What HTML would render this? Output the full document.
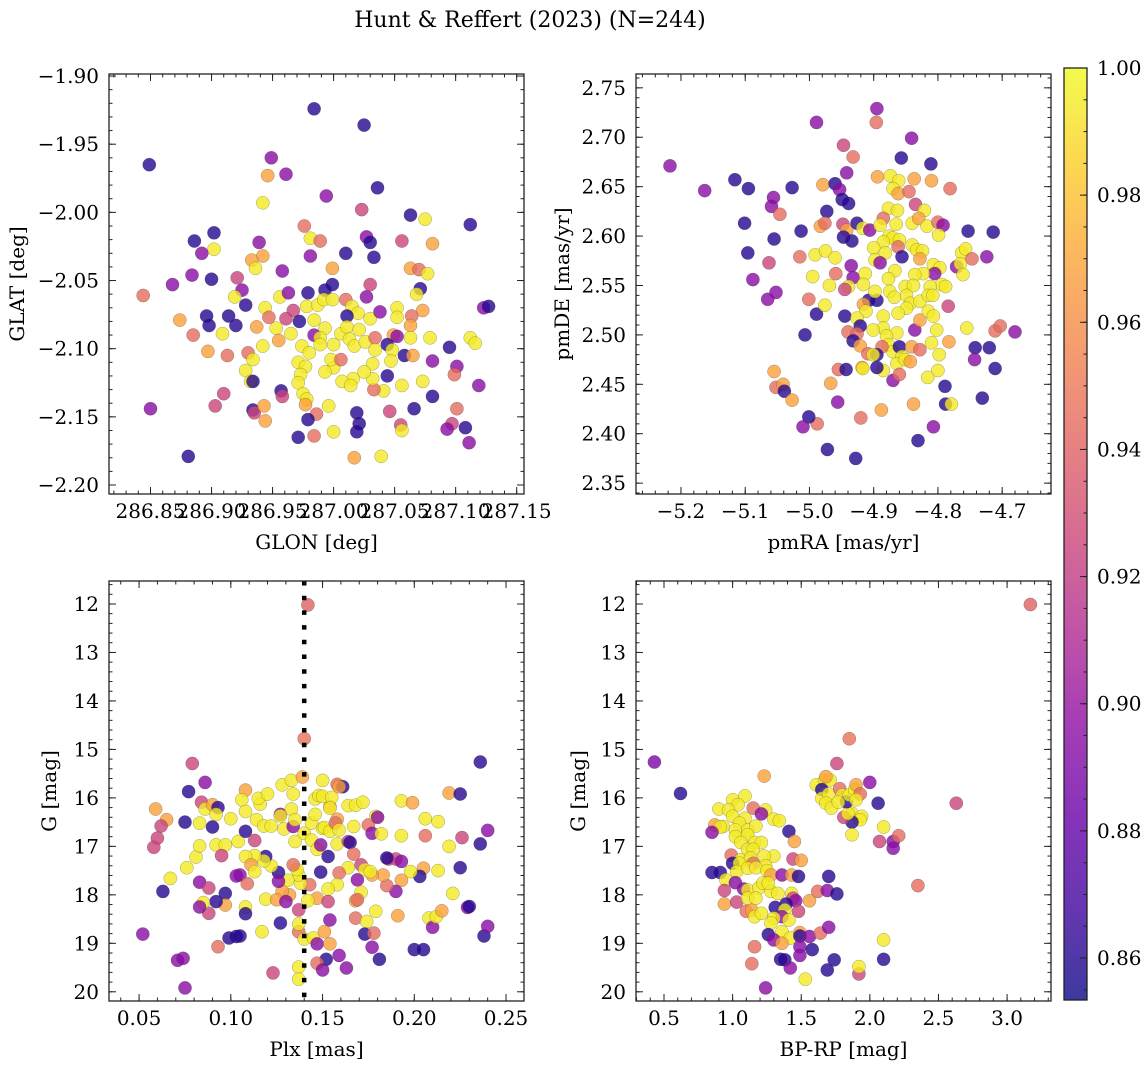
<!DOCTYPE html>
<html><head><meta charset="utf-8"><style>
html,body{margin:0;padding:0;background:#fff;}
svg{display:block;font-family:"DejaVu Serif","Liberation Serif",serif;}
</style></head><body>
<svg id="fig" width="1148" height="1068" viewBox="0 0 1148 1068" xmlns="http://www.w3.org/2000/svg">
<text x="530" y="27" font-size="22" text-anchor="middle">Hunt &amp; Reffert (2023) (N=244)</text>
</svg>
<script>
// Panel 1: GLON / GLAT
const p1Lon=[286.984,287.025,286.849,286.949,286.946,286.961,287.036,286.942,286.994,287.023,287.063,287.075,287.112,286.976,286.981,286.989,287.027,287.030,287.056,287.081,286.886,286.902,286.902,286.892,286.939,286.942,286.933,286.936,286.981,287.010,287.033,286.958,286.999,287.063,287.070,287.077,286.884,286.900,286.868,286.844,286.921,286.925,286.919,286.928,286.956,286.963,286.979,286.999,286.993,287.030,287.027,287.071,287.068,287.073,287.123,287.127,287.112,287.116,286.874,286.896,286.898,286.914,286.920,286.885,286.909,286.897,286.913,286.930,286.934,286.928,286.932,286.934,286.942,286.937,286.944,286.947,286.953,286.955,286.965,286.967,286.961,286.972,286.984,286.978,286.987,286.992,286.999,287.010,287.015,287.020,287.011,287.030,287.038,287.052,287.052,287.064,287.063,287.063,287.079,287.049,287.052,287.095,286.993,286.984,286.989,286.989,286.974,286.980,287.000,287.006,287.011,287.021,287.013,287.017,287.026,287.034,287.034,287.044,287.048,287.047,287.058,287.065,287.081,287.101,287.099,287.119,287.073,287.056,287.044,287.041,287.033,287.032,287.032,287.025,287.016,287.007,287.014,287.000,286.993,286.998,287.006,286.971,286.977,286.973,286.971,286.975,286.978,286.957,286.958,286.910,286.903,286.850,286.934,286.935,286.943,286.944,286.977,286.986,286.996,286.979,287.019,287.021,287.019,287.046,287.066,287.081,287.055,287.056,287.101,287.097,287.093,287.108,287.111,287.000,286.984,286.971,287.017,287.039,286.881];
const p1Lat=[-1.924,-1.936,-1.965,-1.960,-1.973,-1.972,-1.982,-1.993,-1.988,-1.998,-2.002,-2.005,-2.009,-2.010,-2.019,-2.021,-2.018,-2.022,-2.021,-2.023,-2.021,-2.015,-2.027,-2.030,-2.022,-2.032,-2.035,-2.041,-2.032,-2.030,-2.033,-2.043,-2.041,-2.041,-2.042,-2.045,-2.046,-2.049,-2.053,-2.061,-2.048,-2.057,-2.062,-2.068,-2.062,-2.059,-2.059,-2.053,-2.057,-2.053,-2.062,-2.056,-2.060,-2.072,-2.070,-2.069,-2.092,-2.096,-2.079,-2.076,-2.083,-2.076,-2.083,-2.090,-2.089,-2.102,-2.105,-2.103,-2.108,-2.116,-2.124,-2.124,-2.098,-2.084,-2.070,-2.077,-2.085,-2.094,-2.089,-2.072,-2.078,-2.080,-2.079,-2.069,-2.068,-2.064,-2.064,-2.064,-2.069,-2.074,-2.076,-2.078,-2.073,-2.070,-2.077,-2.076,-2.083,-2.092,-2.092,-2.090,-2.091,-2.099,-2.085,-2.090,-2.092,-2.097,-2.098,-2.103,-2.097,-2.089,-2.084,-2.086,-2.093,-2.098,-2.095,-2.092,-2.101,-2.097,-2.101,-2.109,-2.105,-2.105,-2.109,-2.113,-2.119,-2.127,-2.124,-2.127,-2.120,-2.131,-2.130,-2.122,-2.111,-2.117,-2.122,-2.124,-2.127,-2.114,-2.117,-2.108,-2.108,-2.110,-2.113,-2.119,-2.125,-2.133,-2.137,-2.131,-2.135,-2.133,-2.142,-2.144,-2.145,-2.147,-2.142,-2.153,-2.141,-2.148,-2.142,-2.152,-2.147,-2.155,-2.161,-2.146,-2.144,-2.135,-2.156,-2.160,-2.144,-2.155,-2.159,-2.158,-2.169,-2.161,-2.164,-2.165,-2.180,-2.179,-2.179];
const p1Prob=[.86,.86,.86,.895,.968,.895,.86,.995,.895,.925,.86,.995,.86,.945,.995,.945,.895,.86,.925,.968,.86,.86,.995,.895,.895,.968,.968,.995,.895,.86,.86,.895,.968,.968,.945,.995,.895,.86,.895,.945,.925,.895,.995,.86,.995,.895,.86,.86,.86,.925,.895,.86,.995,.968,.895,.86,.995,.995,.968,.86,.86,.86,.86,.945,.995,.968,.945,.945,.995,.995,.995,.86,.995,.968,.995,.945,.995,.968,.995,.925,.925,.86,.995,.995,.995,.995,.995,.945,.995,.995,.86,.995,.895,.995,.995,.945,.968,.995,.995,.968,.895,.86,.995,.895,.995,.995,.995,.995,.995,.995,.995,.995,.995,.995,.995,.945,.995,.86,.995,.995,.86,.968,.895,.895,.945,.895,.995,.995,.86,.995,.945,.995,.995,.995,.995,.995,.995,.995,.995,.995,.945,.995,.995,.995,.995,.995,.995,.86,.925,.925,.925,.895,.86,.925,.968,.968,.968,.945,.995,.86,.86,.86,.86,.925,.86,.86,.925,.995,.945,.925,.895,.86,.895,.995,.945,.86,.968,.995,.86];

// Panel 2: pmRA / pmDE
const p2Ra=[-5.217,-5.163,-5.116,-5.095,-5.101,-5.096,-5.088,-5.063,-5.056,-5.059,-5.046,-5.055,-5.027,-5.065,-5.052,-5.013,-5.015,-5.007,-5.001,-4.995,-4.989,-4.989,-4.976,-4.991,-4.975,-4.960,-4.969,-4.959,-4.979,-4.960,-4.973,-4.983,-4.976,-4.953,-4.942,-4.947,-4.932,-4.949,-4.939,-4.948,-4.942,-4.947,-4.934,-4.926,-4.917,-4.906,-4.935,-4.932,-4.939,-4.945,-4.913,-4.916,-4.908,-4.895,-4.898,-4.916,-4.912,-4.945,-4.926,-4.921,-4.940,-4.926,-4.932,-4.921,-4.909,-4.918,-4.955,-4.943,-4.967,-4.956,-4.920,-4.988,-5.001,-5.010,-4.972,-4.928,-5.055,-5.052,-5.041,-5.039,-5.027,-4.895,-4.896,-4.841,-4.857,-4.811,-4.894,-4.874,-4.861,-4.870,-4.862,-4.837,-4.810,-4.781,-4.845,-4.835,-4.821,-4.877,-4.863,-4.885,-4.890,-4.865,-4.840,-4.830,-4.817,-4.800,-4.792,-4.799,-4.753,-4.714,-4.876,-4.870,-4.860,-4.862,-4.885,-4.900,-4.882,-4.898,-4.890,-4.856,-4.840,-4.833,-4.824,-4.828,-4.807,-4.797,-4.805,-4.771,-4.763,-4.757,-4.765,-4.747,-4.724,-4.761,-4.794,-4.788,-4.812,-4.823,-4.836,-4.851,-4.838,-4.849,-4.843,-4.828,-4.815,-4.808,-4.784,-4.867,-4.877,-4.875,-4.868,-4.849,-4.862,-4.885,-4.885,-4.864,-4.880,-4.877,-4.870,-4.887,-4.895,-4.901,-4.860,-4.856,-4.864,-4.851,-4.843,-4.841,-4.828,-4.836,-4.828,-4.815,-4.807,-4.802,-4.810,-4.783,-4.798,-4.800,-4.816,-4.755,-4.711,-4.703,-4.680,-4.742,-4.720,-4.743,-4.711,-4.789,-4.788,-4.779,-4.731,-4.807,-4.831,-4.838,-4.888,-4.870,-4.860,-4.885,-4.895,-4.917,-4.901];
const p2De=[2.671,2.646,2.657,2.648,2.613,2.583,2.556,2.573,2.639,2.630,2.622,2.597,2.649,2.536,2.543,2.605,2.579,2.500,2.536,2.559,2.715,2.521,2.530,2.581,2.585,2.578,2.550,2.562,2.652,2.653,2.625,2.610,2.613,2.647,2.664,2.692,2.680,2.637,2.633,2.612,2.606,2.599,2.595,2.613,2.608,2.606,2.570,2.558,2.549,2.546,2.562,2.551,2.535,2.535,2.544,2.531,2.524,2.519,2.517,2.509,2.503,2.501,2.494,2.489,2.481,2.467,2.465,2.465,2.451,2.432,2.416,2.410,2.417,2.407,2.384,2.375,2.463,2.447,2.450,2.443,2.434,2.729,2.715,2.699,2.679,2.673,2.660,2.661,2.656,2.648,2.643,2.658,2.656,2.648,2.645,2.632,2.626,2.628,2.626,2.618,2.611,2.612,2.613,2.618,2.610,2.614,2.611,2.601,2.605,2.604,2.600,2.598,2.596,2.589,2.594,2.588,2.583,2.576,2.573,2.579,2.591,2.586,2.585,2.577,2.571,2.568,2.562,2.569,2.583,2.587,2.572,2.577,2.579,2.561,2.551,2.549,2.549,2.562,2.561,2.549,2.550,2.540,2.532,2.534,2.540,2.540,2.529,2.565,2.557,2.544,2.538,2.527,2.522,2.519,2.507,2.502,2.499,2.490,2.483,2.488,2.480,2.505,2.488,2.478,2.471,2.475,2.473,2.488,2.485,2.505,2.515,2.524,2.519,2.505,2.492,2.493,2.480,2.464,2.457,2.507,2.504,2.509,2.503,2.487,2.487,2.475,2.466,2.448,2.430,2.430,2.436,2.407,2.393,2.430,2.424,2.454,2.460,2.464,2.467,2.466,2.480];
const p2Prob=[.895,.895,.86,.86,.86,.86,.895,.925,.895,.895,.945,.86,.86,.895,.895,.86,.945,.86,.945,.995,.895,.86,.995,.995,.995,.995,.995,.945,.968,.86,.86,.968,.945,.895,.895,.925,.945,.86,.86,.925,.968,.86,.86,.86,.995,.895,.895,.895,.995,.925,.995,.995,.86,.86,.995,.968,.995,.86,.995,.86,.945,.945,.86,.968,.945,.968,.945,.86,.968,.895,.945,.945,.86,.895,.86,.86,.968,.945,.968,.86,.968,.895,.945,.895,.86,.86,.968,.995,.995,.995,.968,.968,.968,.945,.945,.925,.995,.995,.995,.945,.995,.995,.995,.968,.995,.945,.895,.995,.86,.86,.995,.995,.995,.945,.995,.995,.995,.995,.895,.86,.995,.995,.995,.968,.995,.995,.895,.895,.995,.995,.995,.945,.895,.995,.995,.995,.995,.995,.995,.995,.995,.995,.995,.995,.995,.995,.925,.995,.995,.995,.995,.995,.995,.995,.995,.995,.995,.995,.995,.945,.86,.995,.86,.995,.995,.995,.968,.968,.945,.895,.968,.995,.995,.995,.995,.968,.995,.995,.995,.995,.945,.945,.895,.86,.86,.895,.86,.86,.86,.995,.86,.895,.86,.968,.968,.895,.945,.995,.86,.995,.995];

// Panel 3: Plx / G
const p3Plx=[.142,.140,.079,.236,.086,.077,.059,.084,.086,.090,.093,.092,.075,.083,.090,.065,.062,.060,.058,.067,.063,.076,.081,.083,.092,.097,.095,.100,.104,.108,.106,.108,.108,.113,.114,.116,.115,.120,.118,.122,.128,.133,.134,.139,.127,.127,.133,.129,.134,.135,.135,.140,.144,.144,.147,.149,.150,.146,.148,.146,.150,.151,.154,.154,.150,.155,.154,.158,.161,.159,.158,.157,.159,.158,.164,.168,.172,.164,.165,.167,.175,.177,.179,.180,.182,.193,.199,.193,.206,.213,.206,.219,.225,.226,.219,.236,.240,.225,.213,.205,.203,.198,.193,.190,.185,.183,.177,.186,.190,.193,.185,.171,.173,.176,.167,.164,.159,.158,.169,.171,.168,.169,.153,.149,.153,.147,.153,.143,.142,.138,.137,.136,.134,.131,.132,.128,.126,.126,.122,.119,.118,.113,.108,.111,.113,.105,.109,.103,.119,.125,.130,.108,.108,.097,.097,.092,.088,.085,.083,.083,.088,.127,.137,.137,.137,.140,.145,.147,.151,.154,.154,.159,.152,.147,.150,.163,.137,.137,.117,.123,.099,.103,.105,.093,.052,.071,.074,.075,.168,.174,.179,.173,.178,.177,.181,.191,.200,.205,.208,.210,.212,.215,.221,.229,.230,.238,.240];
const p3G=[12.02,14.78,15.29,15.26,15.68,15.87,16.23,16.09,16.23,16.14,16.20,16.34,16.50,16.52,16.60,16.45,16.58,16.83,17.02,17.66,17.93,17.44,17.22,16.99,16.97,16.97,17.19,16.43,16.90,15.84,16.04,16.28,16.69,16.88,16.45,16.13,16.01,15.92,16.58,16.58,15.73,15.64,15.92,15.57,16.34,16.37,16.23,16.64,16.59,16.45,16.90,16.73,16.52,16.87,17.06,16.97,15.64,16.02,15.95,16.34,16.63,16.61,16.69,16.18,15.97,15.99,16.21,15.72,15.77,15.77,16.44,16.52,16.66,16.95,16.16,16.15,16.09,16.90,16.92,16.59,16.56,16.73,16.38,16.40,16.74,16.06,16.10,16.78,16.43,16.49,16.78,15.90,15.92,16.82,17.00,16.95,16.67,17.44,17.50,17.45,17.62,17.52,17.70,17.93,17.81,17.59,17.59,17.26,17.26,17.31,17.24,17.38,17.48,17.52,17.16,17.44,17.55,17.79,17.69,17.95,18.12,18.10,17.21,17.53,17.88,18.07,18.14,17.79,18.12,17.76,17.59,17.48,17.38,17.70,18.00,17.93,17.54,17.72,17.40,17.21,17.30,17.19,17.21,17.38,17.52,17.59,17.77,17.61,18.09,18.10,18.14,18.25,18.39,17.97,18.21,18.14,18.38,18.16,18.25,17.74,17.86,18.58,18.76,18.31,18.60,18.91,18.89,19.01,18.76,18.52,19.01,19.25,19.33,19.41,19.55,19.51,19.49,19.74,18.76,19.61,18.89,18.86,18.85,19.07,18.81,19.35,19.31,19.92,18.48,18.55,18.34,18.81,18.79,19.08,19.33,18.43,19.13,19.13,18.48,18.67,18.45,18.33,17.97,18.26,18.24,18.85,18.65];
const p3Prob=[.94,.948,.925,.86,.895,.86,.968,.925,.995,.968,.86,.995,.86,.995,.86,.968,.925,.925,.925,.995,.86,.995,.995,.995,.995,.995,.925,.995,.995,.968,.995,.995,.86,.925,.995,.995,.995,.995,.995,.995,.995,.995,.995,.968,.895,.995,.995,.995,.895,.995,.995,.995,.995,.995,.995,.895,.995,.995,.995,.995,.995,.995,.995,.968,.995,.995,.995,.945,.86,.968,.968,.945,.995,.995,.995,.995,.995,.925,.86,.995,.945,.895,.995,.895,.995,.995,.968,.995,.995,.995,.945,.968,.86,.925,.995,.86,.895,.86,.995,.968,.86,.995,.968,.895,.945,.968,.968,.925,.925,.895,.86,.925,.995,.995,.945,.995,.945,.995,.895,.995,.968,.945,.86,.86,.995,.968,.925,.945,.995,.995,.995,.995,.945,.995,.968,.968,.86,.895,.995,.86,.995,.995,.995,.968,.995,.895,.945,.895,.995,.968,.895,.995,.86,.86,.968,.86,.925,.995,.895,.895,.925,.86,.945,.925,.995,.995,.995,.895,.968,.895,.968,.895,.86,.945,.895,.895,.995,.995,.995,.925,.86,.86,.86,.945,.895,.895,.895,.895,.945,.995,.995,.86,.945,.895,.86,.968,.86,.86,.995,.895,.995,.968,.995,.895,.86,.86,.895];

// Panel 4: BP-RP / G
const p4Col=[3.17,0.43,0.62,1.23,1.76,1.85,2.00,2.06,2.63,2.10,2.07,2.17,2.17,2.21,2.35,1.87,1.94,1.93,1.87,1.81,1.84,1.87,1.61,1.67,1.71,1.68,1.65,1.65,1.70,1.68,1.72,1.78,1.80,1.83,1.85,1.89,1.90,1.93,1.90,1.77,1.09,1.00,1.04,0.90,0.97,1.15,1.24,1.21,1.30,1.34,1.00,1.09,1.05,0.93,0.87,0.91,0.85,1.02,1.11,1.17,1.02,1.11,1.16,1.21,1.06,1.11,1.15,1.41,1.45,1.44,1.50,1.30,1.23,0.99,1.06,1.13,1.15,1.00,1.05,1.24,0.85,0.91,1.03,1.11,1.17,1.25,1.28,0.95,1.02,0.94,0.94,1.03,1.08,1.11,1.19,1.22,1.28,1.26,1.11,1.17,1.10,1.14,1.16,1.21,1.33,1.36,1.43,1.48,1.43,1.44,1.46,1.56,1.62,1.69,1.76,1.70,1.48,1.39,1.31,1.38,1.36,1.30,1.41,1.28,1.36,1.42,1.26,1.30,1.36,1.49,1.49,1.56,1.64,1.70,1.49,1.58,1.49,1.16,1.14,1.35,1.38,1.42,1.74,1.69,1.92,1.92,2.10,2.10,1.53,1.24];
const p4G=[12.01,15.26,15.91,15.55,15.29,14.78,15.68,16.11,16.11,16.60,16.90,16.90,17.04,16.78,17.81,16.32,16.38,16.45,16.50,16.40,16.32,16.76,15.73,15.64,15.63,15.56,15.83,16.01,15.92,16.11,16.21,15.81,15.94,16.08,15.94,15.83,15.73,15.92,16.04,16.09,15.96,16.04,16.14,16.23,16.25,16.21,16.25,16.33,16.44,16.47,16.38,16.42,16.52,16.59,16.56,16.60,16.71,16.66,16.66,16.58,16.80,16.76,16.92,16.92,16.92,17.06,17.06,16.69,16.90,17.26,17.29,17.20,17.20,17.18,17.28,17.24,17.35,17.35,17.35,17.40,17.54,17.54,17.52,17.45,17.44,17.50,17.59,17.69,17.75,17.91,18.19,18.15,17.88,17.90,17.86,17.76,17.93,17.76,18.07,18.07,18.34,18.32,18.45,18.38,17.97,17.59,17.59,17.62,17.97,18.07,18.12,18.12,17.93,17.91,17.98,17.62,18.34,18.19,18.26,18.31,18.45,18.48,18.52,18.58,18.76,18.89,18.82,18.93,19.00,18.78,18.85,18.86,18.79,18.67,19.07,19.13,19.25,19.07,19.42,19.33,19.34,19.51,19.34,19.55,19.63,19.48,18.93,19.33,19.74,19.92];
const p4Prob=[.94,.89,.86,.968,.925,.948,.895,.86,.925,.995,.925,.895,.895,.945,.945,.995,.995,.995,.86,.925,.995,.995,.995,.995,.995,.968,.86,.995,.995,.995,.995,.945,.995,.86,.995,.995,.968,.945,.995,.995,.995,.995,.995,.995,.995,.945,.995,.895,.995,.995,.995,.995,.995,.995,.968,.995,.895,.995,.995,.995,.995,.995,.995,.995,.995,.995,.995,.86,.968,.925,.968,.995,.995,.945,.995,.995,.945,.86,.995,.995,.86,.86,.995,.995,.995,.995,.968,.995,.895,.925,.968,.925,.895,.995,.995,.995,.995,.995,.995,.995,.945,.968,.995,.995,.995,.895,.968,.86,.995,.925,.895,.968,.945,.895,.86,.86,.925,.86,.86,.995,.895,.995,.995,.995,.995,.995,.86,.895,.968,.968,.86,.895,.945,.895,.895,.86,.895,.945,.945,.86,.86,.895,.86,.86,.925,.995,.995,.86,.995,.895];

const plxRef=[0.14];
const cbTicks=[0.86,0.88,0.90,0.92,0.94,0.96,0.98,1.00];
const vmin=0.8534, vmax=1.0;

const NS="http://www.w3.org/2000/svg";
const svg=document.getElementById('fig');
const FS=20;
function mk(tag,attrs,parent){const e=document.createElementNS(NS,tag);for(const k in attrs)e.setAttribute(k,attrs[k]);(parent||svg).appendChild(e);return e;}
const plasma=[[13,8,135],[65,4,157],[106,0,168],[143,13,164],[177,42,144],[204,71,120],[225,100,98],[242,132,75],[252,166,54],[252,206,37],[240,249,33]];
function cmap(t){t=Math.max(0,Math.min(1,t));const s=t*10,i=Math.min(9,Math.floor(s)),f=s-i;const a=plasma[i],b=plasma[i+1];return 'rgb('+a.map((v,k)=>Math.round(v+(b[k]-v)*f)).join(',')+')';}
function fmt(v,d){const s=Math.abs(v).toFixed(d);return (v<-1e-9?'\u2212':'')+s;}

function panel(c){
  const g=mk('g',{});
  
  
  const sx=v=>c.x0+(v-c.xd[0])/(c.xd[1]-c.xd[0])*(c.x1-c.x0);
  const sy=c.yinv?(v=>c.y0+(v-c.yd[0])/(c.yd[1]-c.yd[0])*(c.y1-c.y0)):(v=>c.y1-(v-c.yd[0])/(c.yd[1]-c.yd[0])*(c.y1-c.y0));
  const clip=mk('clipPath',{id:c.name+'-clip'},g);
  mk('rect',{x:c.x0,y:c.y0,width:c.x1-c.x0,height:c.y1-c.y0},clip);
  const pts=mk('g',{'clip-path':'url(#'+c.name+'-clip)'},g);
  for(let i=0;i<c.xs.length;i++){
    const p=c.prob[i];
    const el=mk('circle',{cx:sx(c.xs[i]).toFixed(1),cy:sy(c.ys[i]).toFixed(1),r:6.6,fill:cmap((p-vmin)/(vmax-vmin)),'fill-opacity':0.8,stroke:'rgba(60,60,60,0.45)','stroke-width':0.5},pts);
    
    
  }
  if(c.vline){for(const v of c.vline){
    const l=mk('line',{x1:sx(v),x2:sx(v),y1:c.y0,y2:c.y1,stroke:'#000','stroke-width':4.5,'stroke-dasharray':'4.5 10.2'},g);
    
    
  }}
  const ax=mk('g',{stroke:'#222','stroke-width':1},g);
  
  
  const eps=1e-9;
  for(let v=Math.ceil(c.xd[0]/c.xmin-eps)*c.xmin;v<=c.xd[1]+eps;v+=c.xmin){const x=sx(v);mk('line',{x1:x,x2:x,y1:c.y1,y2:c.y1-3.5},ax);mk('line',{x1:x,x2:x,y1:c.y0,y2:c.y0+3.5},ax);}
  for(let v=Math.ceil(Math.min(c.yd[0],c.yd[1])/c.ymin-eps)*c.ymin;v<=Math.max(c.yd[0],c.yd[1])+eps;v+=c.ymin){const y=sy(v);mk('line',{y1:y,y2:y,x1:c.x0,x2:c.x0+3.5},ax);mk('line',{y1:y,y2:y,x1:c.x1,x2:c.x1-3.5},ax);}
  c.xt.forEach(v=>{const x=sx(v);mk('line',{x1:x,x2:x,y1:c.y1,y2:c.y1-7},ax);mk('line',{x1:x,x2:x,y1:c.y0,y2:c.y0+7},ax);
    const t=mk('text',{x:x,y:c.y1+24,'font-size':FS,'text-anchor':'middle'},g);t.textContent=fmt(v,c.xdec);
    });
  c.yt.forEach(v=>{const y=sy(v);mk('line',{y1:y,y2:y,x1:c.x0,x2:c.x0+7},ax);mk('line',{y1:y,y2:y,x1:c.x1,x2:c.x1-7},ax);
    const t=mk('text',{x:c.x0-10,y:y+7,'font-size':FS,'text-anchor':'end'},g);t.textContent=fmt(v,c.ydec);
    });
  mk('rect',{x:c.x0,y:c.y0,width:c.x1-c.x0,height:c.y1-c.y0,fill:'none',stroke:'#222','stroke-width':1.3},g);
  const xl=mk('text',{x:(c.x0+c.x1)/2,y:c.y1+55,'font-size':FS,'text-anchor':'middle'},g);xl.textContent=c.xlab;
  
  const yx=c.ylx, yy=(c.y0+c.y1)/2;
  const yl=mk('text',{x:yx,y:yy,'font-size':FS,'text-anchor':'middle',transform:'rotate(-90 '+yx+' '+yy+')'},g);yl.textContent=c.ylab;
  
}
function rng(a,b,s){const r=[];for(let v=a;v<=b+1e-9;v+=s)r.push(+v.toFixed(6));return r;}

panel({name:'glon-glat-panel',x0:109,x1:524,y0:74,y1:494,xd:[286.816,287.156],yd:[-2.2066,-1.8985],xs:p1Lon,ys:p1Lat,prob:p1Prob,
  xt:rng(286.85,287.15,0.05),yt:rng(-2.20,-1.90,0.05),xmin:0.01,ymin:0.01,xdec:2,ydec:2,xlab:'GLON [deg]',ylab:'GLAT [deg]',ylx:24});
panel({name:'pm-panel',x0:636,x1:1051,y0:74,y1:494,xd:[-5.270,-4.624],yd:[2.339,2.764],xs:p2Ra,ys:p2De,prob:p2Prob,
  xt:rng(-5.2,-4.7,0.1),yt:rng(2.35,2.75,0.05),xmin:0.02,ymin:0.01,xdec:1,ydec:2,xlab:'pmRA [mas/yr]',ylab:'pmDE [mas/yr]',ylx:569});
panel({name:'plx-g-panel',x0:109,x1:524,y0:581,y1:1001,xd:[0.0336,0.2598],yd:[11.526,20.19],yinv:true,xs:p3Plx,ys:p3G,prob:p3Prob,vline:plxRef,
  xt:rng(0.05,0.25,0.05),yt:rng(12,20,1),xmin:0.01,ymin:0.2,xdec:2,ydec:0,xlab:'Plx [mas]',ylab:'G [mag]',ylx:56});
panel({name:'cmd-panel',x0:636,x1:1051,y0:581,y1:1001,xd:[0.296,3.32],yd:[11.526,20.19],yinv:true,xs:p4Col,ys:p4G,prob:p4Prob,
  xt:rng(0.5,3.0,0.5),yt:rng(12,20,1),xmin:0.1,ymin:0.2,xdec:1,ydec:0,xlab:'BP-RP [mag]',ylab:'G [mag]',ylx:585});

// Colorbar
(function(){
  const x0=1064,x1=1087,y0=68,y1=1000;
  const sy=v=>y1-(v-vmin)/(vmax-vmin)*(y1-y0);
  const g=mk('g',{});
  
  
  const defs=mk('defs',{},g);
  const lg=mk('linearGradient',{id:'cbgrad',x1:0,y1:1,x2:0,y2:0},defs);
  for(let i=0;i<=20;i++){mk('stop',{offset:i/20,'stop-color':cmap(i/20),'stop-opacity':0.8},lg);}
  mk('rect',{x:x0,y:y0,width:x1-x0,height:y1-y0,fill:'url(#cbgrad)',stroke:'#222','stroke-width':1.3},g);
  for(let v=0.855;v<=1.0001;v+=0.005){const y=sy(v);mk('line',{x1:x1,x2:x1-3.5,y1:y,y2:y,stroke:'#222'},g);}
  cbTicks.forEach(v=>{const y=sy(v);mk('line',{x1:x1,x2:x1-7,y1:y,y2:y,stroke:'#222'},g);
    const t=mk('text',{x:x1+10,y:y+7,'font-size':FS},g);t.textContent=v.toFixed(2);
    });
})();
</script>
</body></html>
